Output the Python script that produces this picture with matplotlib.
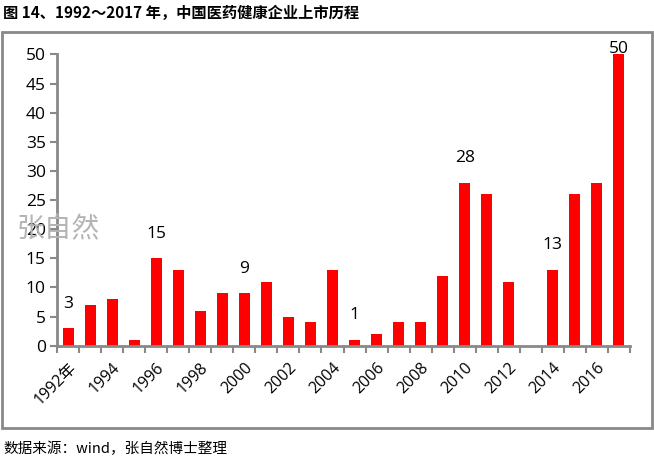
"""图 14：1992～2017 年中国医药健康企业上市历程（柱状图）。"""

import matplotlib.pyplot as plt
from matplotlib.patches import Rectangle

plt.rcParams["font.family"] = ["Open Sans", "Noto Sans CJK SC", "DejaVu Sans"]

years = list(range(1992, 2018))
counts = [3, 7, 8, 1, 15, 13, 6, 9, 9, 11, 5, 4, 13, 1, 2, 4, 4, 12, 28, 26, 11, 0, 13, 26, 28, 50]
tick_labels = ["1992年"] + [str(y) for y in range(1994, 2017, 2)]
labeled_years = [1992, 1996, 2000, 2005, 2010, 2014, 2017]

GRAY = "#898989"

fig = plt.figure(figsize=(6.54, 4.68), dpi=100)

# 外框
fig.patches.append(Rectangle((1.5 / 654, 1 - 428 / 468), 650 / 654, 396 / 468,
                             transform=fig.transFigure, fill=False,
                             edgecolor=GRAY, linewidth=2))

ax = fig.add_axes([57 / 654, 1 - 345.7 / 468, 573 / 654, 291.2 / 468])
x = list(range(len(years)))
ax.bar(x, counts, width=0.5, color="#ff0000")

ax.set_xlim(-0.5, len(years) - 0.5)
ax.set_ylim(0, 50)
ax.set_yticks(range(0, 51, 5))
ax.tick_params(axis="y", labelsize=12.5, length=5, width=1.5, color=GRAY, pad=3)

ax.set_xticks([i - 0.5 for i in range(len(years) + 1)], minor=False)
ax.set_xticklabels([])
ax.tick_params(axis="x", length=5, width=1.5, color=GRAY)
ax.set_xticks(x[::2], minor=True)
ax.set_xticklabels(tick_labels, minor=True, rotation=45, ha="right",
                   rotation_mode="anchor", fontsize=11.5)
ax.tick_params(axis="x", which="minor", length=0, pad=10)

for side in ["top", "right"]:
    ax.spines[side].set_visible(False)
for side in ["left", "bottom"]:
    ax.spines[side].set_color(GRAY)
    ax.spines[side].set_linewidth(2)

for yr in labeled_years:
    i = years.index(yr)
    off = 12 if counts[i] < 50 else -2
    ax.annotate(str(counts[i]), (i, counts[i]), xytext=(0, off),
                textcoords="offset points", ha="center", va="bottom",
                fontsize=12.5, annotation_clip=False)

# 水印
fig.text(17 / 654, 1 - 229 / 468, "张自然", fontsize=20, color="#b4b4b4",
         va="center", ha="left", family=["Noto Sans CJK SC"])

fig.text(3 / 654, 1 - 13 / 468, "图 14、1992～2017 年，中国医药健康企业上市历程",
         fontsize=11, fontweight="bold", va="center", ha="left",
         family=["Noto Sans CJK SC", "DejaVu Sans"])
fig.text(3 / 654, 1 - 449 / 468, "数据来源：wind，张自然博士整理",
         fontsize=10.5, va="center", ha="left",
         family=["Noto Sans CJK SC", "DejaVu Sans"])

fig.savefig("out.png", dpi=100)
plt.close(fig)
